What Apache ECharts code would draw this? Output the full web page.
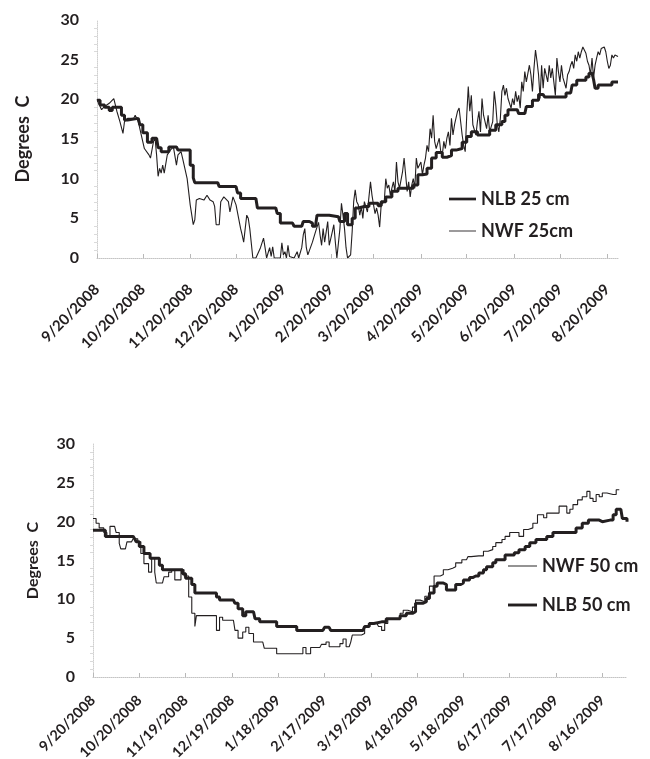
<!DOCTYPE html>
<html><head><meta charset="utf-8">
<script src="https://cdn.jsdelivr.net/npm/echarts@6/dist/echarts.min.js"></script>
<style>html,body{margin:0;padding:0;background:#fff}#c{width:650px;height:759px}</style>
</head><body><div id="c"></div>
<script>
// ---- axis definitions ----
const topDayCount = 342;     // 9/20/2008 .. 8/27/2009
const bottomDayCount = 347;  // 9/20/2008 .. 9/1/2009
const topTickLabels = ['9/20/2008','10/20/2008','11/20/2008','12/20/2008','1/20/2009','2/20/2009','3/20/2009','4/20/2009','5/20/2009','6/20/2009','7/20/2009','8/20/2009'];
const bottomTickLabels = ['9/20/2008','10/20/2008','11/19/2008','12/19/2008','1/18/2009','2/17/2009','3/19/2009','4/18/2009','5/18/2009','6/17/2009','7/17/2009','8/16/2009'];

// ---- data: [day index from 9/20/2008, degrees C] ----
const nlb25 = [[0,19.9],[2,19.3],[5,19.0],[8,18.6],[10,19.0],[12,19.0],[16,18.0],[18,17.4],[20,17.6],[27,17.6],[28,16.8],[30,15.8],[33,14.6],[36,15.1],[39,15.1],[40,13.9],[42,13.4],[45,13.4],[47,14.0],[52,14.0],[53,13.6],[58,13.6],[61,11.7],[63,10.1],[64,9.5],[79,9.5],[80,9.0],[91,9.0],[92,8.2],[94,7.5],[104,7.5],[105,6.3],[117,6.2],[118,5.6],[120,4.4],[128,4.4],[129,4.0],[134,4.0],[135,4.6],[139,4.4],[141,4.0],[143,4.0],[144,5.4],[152,5.4],[153,5.2],[158,5.2],[159,4.6],[162,5.6],[164,4.2],[167,5.0],[169,6.3],[171,6.5],[175,6.5],[178,6.9],[184,6.6],[186,7.1],[189,7.7],[193,8.4],[197,8.8],[204,8.8],[207,9.2],[210,10.5],[213,10.6],[216,11.3],[219,12.6],[222,13.3],[226,12.7],[229,12.9],[232,13.6],[235,13.8],[239,14.6],[242,15.3],[245,15.9],[249,15.5],[252,15.5],[257,16.1],[261,16.8],[265,17.2],[267,18.0],[269,18.7],[275,18.7],[276,18.2],[280,18.2],[281,19.1],[285,19.9],[289,20.6],[292,20.6],[293,20.3],[305,20.3],[307,20.8],[310,20.8],[311,21.8],[314,22.4],[317,22.4],[320,22.8],[322,23.3],[324,23.3],[325,22.5],[326,21.4],[328,21.8],[335,21.8],[337,22.2],[341,22.2]];

const nwf25 = [[0,20.0],[1,19.5],[3,18.7],[5,19.1],[8,19.5],[11,20.1],[13,18.5],[15,17.2],[17,15.7],[18,17.2],[20,17.6],[24,17.6],[25,18.0],[27,17.2],[29,15.5],[31,13.8],[34,13.0],[35,12.6],[37,14.7],[38,15.1],[39,13.0],[40,10.3],[41,11.3],[42,10.7],[43,11.7],[44,10.7],[46,13.0],[48,13.6],[50,14.0],[52,11.7],[53,13.0],[55,13.4],[56,12.6],[59,10.0],[61,6.7],[63,4.2],[64,4.8],[65,7.3],[67,7.5],[70,7.3],[72,7.9],[74,7.3],[76,7.1],[77,6.5],[78,4.2],[80,4.2],[81,7.1],[83,7.7],[84,7.7],[86,7.1],[87,5.8],[89,7.7],[91,6.7],[94,3.7],[95,2.9],[96,2.0],[97,3.7],[98,5.4],[99,5.0],[100,3.7],[102,0],[104,0],[107,1.3],[109,2.5],[110,1.3],[111,0],[113,1.3],[114,0.2],[115,1.4],[116,0],[120,0],[121,1.9],[122,0.4],[123,0.8],[124,0],[125,1.6],[126,0.2],[129,0],[131,0.8],[132,0],[134,1.3],[135,2.9],[136,3.7],[137,1.3],[138,0.4],[141,2.0],[143,3.3],[145,4.5],[146,2.9],[147,1.6],[148,3.7],[149,2.0],[150,3.3],[151,4.6],[152,1.6],[154,3.3],[155,4.2],[156,2.0],[157,0],[158,0],[159,3.7],[160,6.9],[161,5.4],[162,3.7],[163,1.3],[164,0],[166,0.4],[167,3.3],[168,7.1],[169,8.6],[170,7.1],[171,6.7],[172,5.4],[173,6.5],[174,5.0],[175,7.1],[177,5.8],[178,7.7],[179,9.6],[180,7.9],[181,6.7],[182,5.6],[183,6.3],[184,5.4],[185,3.9],[186,6.7],[188,7.1],[189,10.0],[190,8.8],[191,9.2],[192,7.9],[193,8.8],[194,9.6],[195,8.4],[196,12.1],[197,9.6],[198,8.8],[200,10.9],[201,12.6],[202,10.5],[203,8.4],[204,9.6],[205,7.7],[206,9.2],[207,10.0],[208,8.8],[209,12.6],[210,11.3],[212,12.1],[213,10.5],[214,11.7],[215,12.6],[216,14.2],[217,13.4],[218,16.3],[219,15.1],[220,18.0],[221,14.7],[222,13.8],[224,15.1],[225,13.4],[226,13.0],[227,14.7],[228,13.8],[229,15.1],[230,15.9],[231,14.2],[232,17.6],[233,15.5],[234,16.8],[236,18.5],[237,18.9],[238,17.2],[239,15.5],[240,14.2],[241,13.4],[242,18.0],[243,21.6],[244,18.5],[245,20.5],[246,16.8],[248,15.5],[249,17.2],[250,18.5],[251,15.9],[252,20.1],[253,18.0],[254,18.0],[255,16.3],[256,18.0],[257,15.9],[259,17.2],[260,21.0],[261,19.3],[262,16.8],[263,15.9],[264,17.6],[265,21.0],[266,21.8],[267,20.5],[268,21.4],[269,20.1],[271,18.9],[272,20.1],[273,19.3],[274,21.0],[275,19.7],[276,20.5],[277,18.9],[278,22.2],[279,21.0],[280,23.5],[281,22.2],[283,24.3],[284,23.1],[285,21.0],[286,23.9],[287,26.2],[288,24.8],[289,23.1],[290,20.1],[291,24.3],[292,21.4],[293,23.9],[295,22.2],[296,24.3],[297,22.7],[298,23.9],[299,22.2],[300,20.5],[301,25.2],[302,23.5],[303,22.2],[304,24.3],[305,22.7],[307,21.4],[308,23.1],[309,23.5],[310,24.3],[311,24.8],[312,23.9],[313,25.6],[314,24.8],[315,26.0],[316,25.2],[317,26.0],[318,26.6],[320,25.8],[321,24.8],[322,24.3],[323,23.1],[324,25.2],[325,22.7],[326,24.3],[327,25.2],[328,26.0],[329,25.6],[330,26.4],[332,26.6],[333,26.0],[334,24.8],[335,23.9],[336,24.3],[337,25.6],[338,25.2],[339,25.6],[340,25.4],[341,25.4]];

const nlb50 = [[0,18.9],[6,18.9],[8,18.1],[26,18.1],[27,17.8],[28,17.4],[30,16.8],[33,15.9],[37,15.3],[41,15.3],[43,14.4],[45,13.8],[56,13.8],[58,13.3],[60,12.7],[64,11.9],[66,10.8],[78,10.8],[80,10.3],[82,9.9],[91,9.9],[92,9.5],[94,8.8],[97,7.9],[99,8.4],[104,8.4],[105,7.5],[108,7.1],[117,7.1],[119,6.5],[130,6.5],[132,6.0],[149,6.0],[150,6.4],[153,6.5],[154,6.0],[175,6.0],[176,6.5],[179,6.9],[182,7.1],[187,7.1],[190,7.5],[197,7.5],[199,7.9],[203,8.2],[207,8.4],[209,9.5],[214,9.7],[216,10.1],[218,10.8],[221,11.7],[223,12.1],[227,11.9],[229,11.2],[233,11.2],[235,11.9],[238,12.1],[240,12.5],[242,12.5],[244,12.8],[246,13.0],[248,13.0],[250,13.4],[253,13.8],[255,14.2],[259,14.7],[261,15.1],[265,15.1],[267,15.7],[271,15.7],[273,16.0],[276,16.4],[280,16.8],[283,17.3],[287,17.7],[292,17.7],[294,18.1],[298,18.6],[311,18.6],[313,19.2],[317,19.8],[321,20.2],[326,20.2],[328,20.0],[330,20.2],[335,20.2],[337,20.9],[339,21.6],[342,21.6],[343,20.4],[346,20.0]];

const nwf50 = [[0,20.4],[2,19.8],[4,19.2],[7,18.6],[9,18.1],[11,19.4],[14,19.4],[15,18.6],[17,17.2],[18,16.5],[21,16.5],[22,17.4],[25,17.4],[26,17.8],[29,17.4],[31,15.9],[33,14.6],[36,13.5],[38,15.3],[40,13.5],[41,12.1],[45,12.1],[46,12.9],[49,13.5],[51,13.8],[53,12.5],[55,12.5],[57,13.8],[59,13.0],[62,10.3],[64,8.2],[66,6.5],[67,7.9],[78,7.9],[80,6.0],[82,7.7],[84,7.3],[91,7.3],[92,6.0],[94,5.0],[97,5.8],[99,6.4],[101,5.6],[104,4.5],[110,4.5],[111,3.7],[117,3.7],[119,3.0],[134,3.0],[136,3.8],[138,3.0],[141,3.8],[147,3.8],[148,4.2],[151,4.5],[153,3.9],[158,3.9],[160,4.3],[162,4.9],[164,3.9],[166,3.7],[167,4.5],[168,5.4],[172,5.4],[174,5.6],[176,6.5],[179,6.9],[184,6.9],[185,6.5],[187,6.0],[189,6.9],[191,7.5],[197,7.5],[199,8.2],[201,8.6],[204,8.4],[207,9.0],[209,9.9],[212,9.7],[215,10.4],[218,11.7],[221,13.0],[225,13.2],[227,13.8],[230,14.0],[233,14.2],[235,14.7],[239,15.1],[242,15.1],[243,15.5],[245,15.6],[250,15.6],[253,16.2],[256,16.4],[259,16.8],[261,17.3],[265,17.7],[267,18.1],[270,18.6],[273,18.6],[276,18.1],[279,19.0],[282,19.2],[285,19.8],[288,20.9],[292,20.5],[294,21.1],[300,21.1],[302,22.0],[307,21.1],[309,21.6],[311,22.2],[314,22.8],[317,23.2],[320,23.9],[322,23.0],[324,22.6],[326,23.5],[328,23.2],[330,23.7],[333,23.5],[337,23.5],[339,24.1],[341,24.1]];

// ---- build daily category labels ----
function buildDates(n) {
  const out = [];
  for (let i = 0; i < n; i++) {
    const d = new Date(Date.UTC(2008, 8, 20 + i));
    out.push((d.getUTCMonth() + 1) + '/' + d.getUTCDate() + '/' + d.getUTCFullYear());
  }
  return out;
}
const topCats = buildDates(topDayCount);
const bottomCats = buildDates(bottomDayCount);
const topSet = new Set(topTickLabels);
const bottomSet = new Set(bottomTickLabels);

const INK = '#231f20';
const FONT = 'Lato';
const THICK_ICON = 'path://M0,0H30V3H0Z';
const THIN_ICON = 'path://M0,0H30V1H0Z';

function yAxis(gi, gap, nameSize) {
  return {
    gridIndex: gi, type: 'value', min: 0, max: 30, interval: 5,
    name: 'Degrees  C', nameLocation: 'middle', nameGap: gap,
    nameTextStyle: { fontFamily: FONT, fontWeight: 'bold', fontSize: nameSize, color: INK },
    axisLine: { show: true, lineStyle: { color: '#cfcfcf', type: 'dotted', width: 1 } },
    axisTick: { show: false },
    minorTick: { show: true, splitNumber: 5, length: 3, lineStyle: { color: '#dadada' } },
    splitLine: { show: false },
    axisLabel: { fontFamily: FONT, fontWeight: 'bold', fontSize: 16, color: INK, margin: 18 }
  };
}
function xAxis(gi, cats, set, margin, size) {
  const fn = (idx, val) => set.has(val);
  return {
    gridIndex: gi, type: 'category', data: cats, boundaryGap: false,
    axisLine: { lineStyle: { color: '#c4c4c4', type: 'dotted', width: 1 } },
    axisTick: { interval: fn, inside: true, length: 4, lineStyle: { color: '#b8b8b8' } },
    axisLabel: { interval: fn, rotate: 45, fontFamily: FONT, fontWeight: 'bold', fontSize: size, color: INK, margin: margin },
    splitLine: { show: false }
  };
}
function line(name, data, xi, width, step) {
  return {
    name, type: 'line', xAxisIndex: xi, yAxisIndex: xi, data,
    symbol: 'none', step: step, color: INK,
    lineStyle: { color: INK, width: width }, z: width > 2 ? 3 : 2
  };
}
const legendText = { fontFamily: FONT, fontWeight: 'bold', fontSize: 18, color: INK };

const chart = echarts.init(document.getElementById('c'), null, { renderer: 'canvas' });
chart.setOption({
  animation: false,
  backgroundColor: '#fff',
  grid: [
    { left: 97, right: 32, top: 20, height: 238, containLabel: false, outerBoundsMode: 'none' },
    { left: 93, right: 23, top: 444, height: 233, containLabel: false, outerBoundsMode: 'none' }
  ],
  xAxis: [xAxis(0, topCats, topSet, 29, 15), xAxis(1, bottomCats, bottomSet, 21, 14.5)],
  yAxis: [yAxis(0, 65, 18), yAxis(1, 52, 16)],
  legend: [
    { orient: 'vertical', left: 444, top: 185, itemWidth: 27, itemHeight: 14, itemGap: 14,
      data: [{ name: 'NLB 25 cm', icon: THICK_ICON }, { name: 'NWF 25cm', icon: THIN_ICON }],
      textStyle: legendText },
    { orient: 'vertical', left: 503, top: 552, itemWidth: 29, itemHeight: 14, itemGap: 21,
      data: [{ name: 'NWF 50 cm', icon: THIN_ICON }, { name: 'NLB 50 cm', icon: THICK_ICON }],
      textStyle: legendText }
  ],
  series: [
    line('NLB 25 cm', nlb25, 0, 3, 'end'),
    line('NWF 25cm', nwf25, 0, 1.1, false),
    line('NWF 50 cm', nwf50, 1, 1.1, 'end'),
    line('NLB 50 cm', nlb50, 1, 3, 'end')
  ]
});
</script>
</body></html>
